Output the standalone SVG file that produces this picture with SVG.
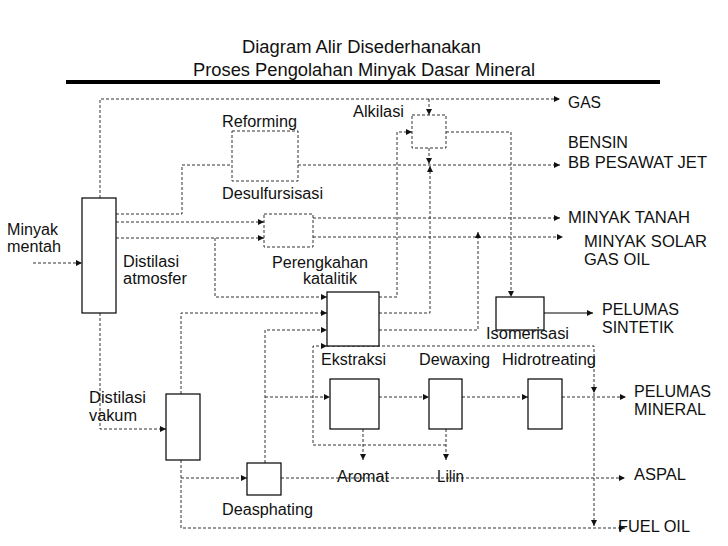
<svg xmlns="http://www.w3.org/2000/svg" width="728" height="546" viewBox="0 0 728 546">
<style>
text{font-family:"Liberation Sans",Arial,sans-serif;font-size:16px;fill:#111}
.t{font-size:18.3px}
.box{fill:#fff;stroke:#000;stroke-width:1.2}
.dbox{fill:#fff;stroke:#333;stroke-width:1;stroke-dasharray:3,2}
.c path{fill:none;stroke:#333;stroke-width:1;stroke-dasharray:3,2}
.c path.a{marker-end:url(#ah)}
.c path.s{stroke:#000;stroke-dasharray:none}
</style>
<defs>
<marker id="ah" markerUnits="userSpaceOnUse" markerWidth="7" markerHeight="7" refX="6" refY="3" orient="auto">
<path d="M0,0 L6,3 L0,6 z" fill="#111"/>
</marker>
</defs>
<rect width="728" height="546" fill="#fff"/>
<g id="title">
<text class="t" x="242" y="53" textLength="239" lengthAdjust="spacingAndGlyphs">Diagram Alir Disederhanakan</text>
<text class="t" x="193" y="76" textLength="342" lengthAdjust="spacingAndGlyphs">Proses Pengolahan Minyak Dasar Mineral</text>
<rect x="66" y="80" width="594" height="4" fill="#000"/>
</g>
<g class="c" id="connectors">
<path class="a" d="M33,263 H82"/>
<path class="a" d="M100,198 V99 H560"/>
<path class="a" d="M429,99 V115"/>
<path class="a" d="M446,132 H511 V297"/>
<path class="a s" d="M544,313 H593"/>
<path d="M116,214 H182 V165 H232"/>
<path class="a" d="M298,165 H560"/>
<path class="a" d="M429,148 V164"/>
<path class="a" d="M379,313 H430 V166"/>
<path class="a" d="M379,297 H397 V132 H412"/>
<path class="a" d="M116,222 H264"/>
<path class="a" d="M116,238 H264"/>
<path class="a" d="M313,218 H560"/>
<path class="a" d="M313,237 H563"/>
<path class="a" d="M215,238 V297 H327"/>
<path class="a" d="M181,394 V313 H327"/>
<path class="a" d="M265,463 V330 H327"/>
<path class="a" d="M379,330 H478 V232"/>
<path class="a" d="M446,429 V460"/>
<path class="a" d="M446,445 H313 V346 H327"/>
<path class="a" d="M327,346 H594 V393"/>
<path class="a" d="M594,393 V526"/>
<path class="a" d="M363,429 V460"/>
<path class="a" d="M100,313 V429 H166"/>
<path class="a" d="M181,460 V528 H625"/>
<path class="a" d="M181,478 H247"/>
<path class="a" d="M281,478 H625"/>
<path class="a" d="M265,397 H330"/>
<path class="a" d="M379,397 H429"/>
<path class="a" d="M462,397 H528"/>
<path class="a" d="M562,397 H626"/>
</g>
<g id="distilasi-atmosfer">
<rect class="box" x="82" y="198" width="34" height="115"/>
<text x="123" y="267" textLength="56" lengthAdjust="spacingAndGlyphs">Distilasi</text>
<text x="123" y="284" textLength="64" lengthAdjust="spacingAndGlyphs">atmosfer</text>
</g>
<g id="minyak-mentah">
<text x="7" y="235" textLength="51" lengthAdjust="spacingAndGlyphs">Minyak</text>
<text x="7" y="252" textLength="54" lengthAdjust="spacingAndGlyphs">mentah</text>
</g>
<g id="reforming">
<rect class="dbox" x="232" y="131" width="66" height="50"/>
<text x="222" y="127" textLength="75" lengthAdjust="spacingAndGlyphs">Reforming</text>
</g>
<g id="desulfurisasi">
<rect class="dbox" x="264" y="214" width="49" height="33"/>
<text x="222" y="199" textLength="101" lengthAdjust="spacingAndGlyphs">Desulfursisasi</text>
</g>
<g id="alkilasi">
<rect class="dbox" x="412" y="115" width="34" height="33"/>
<text x="353" y="117" textLength="51" lengthAdjust="spacingAndGlyphs">Alkilasi</text>
</g>
<g id="perengkahan-katalitik">
<rect class="box" x="327" y="292" width="52" height="54"/>
<text x="272" y="268" textLength="96" lengthAdjust="spacingAndGlyphs">Perengkahan</text>
<text x="303" y="284" textLength="54" lengthAdjust="spacingAndGlyphs">katalitik</text>
</g>
<g id="isomerisasi">
<rect class="box" x="496" y="297" width="48" height="33"/>
<text x="486" y="339" textLength="83" lengthAdjust="spacingAndGlyphs">Isomerisasi</text>
</g>
<g id="distilasi-vakum">
<rect class="box" x="166" y="394" width="34" height="66"/>
<text x="89" y="403" textLength="57" lengthAdjust="spacingAndGlyphs">Distilasi</text>
<text x="89" y="421" textLength="48" lengthAdjust="spacingAndGlyphs">vakum</text>
</g>
<g id="ekstraksi">
<rect class="box" x="330" y="379" width="49" height="50"/>
<text x="321" y="365" textLength="65" lengthAdjust="spacingAndGlyphs">Ekstraksi</text>
</g>
<g id="dewaxing">
<rect class="box" x="429" y="379" width="33" height="50"/>
<text x="419" y="365" textLength="71" lengthAdjust="spacingAndGlyphs">Dewaxing</text>
</g>
<g id="hidrotreating">
<rect class="box" x="528" y="379" width="34" height="50"/>
<text x="502" y="365" textLength="94" lengthAdjust="spacingAndGlyphs">Hidrotreating</text>
</g>
<g id="deasphating">
<rect class="box" x="247" y="463" width="34" height="32"/>
<text x="222" y="515" textLength="91" lengthAdjust="spacingAndGlyphs">Deasphating</text>
</g>
<g id="products">
<text x="568" y="108" textLength="33" lengthAdjust="spacingAndGlyphs">GAS</text>
<text x="568" y="148" textLength="60" lengthAdjust="spacingAndGlyphs">BENSIN</text>
<text x="568" y="168" textLength="139" lengthAdjust="spacingAndGlyphs">BB PESAWAT JET</text>
<text x="568" y="223" textLength="122" lengthAdjust="spacingAndGlyphs">MINYAK TANAH</text>
<text x="584" y="247" textLength="123" lengthAdjust="spacingAndGlyphs">MINYAK SOLAR</text>
<text x="584" y="265" textLength="66" lengthAdjust="spacingAndGlyphs">GAS OIL</text>
<text x="602" y="315" textLength="77" lengthAdjust="spacingAndGlyphs">PELUMAS</text>
<text x="602" y="333" textLength="72" lengthAdjust="spacingAndGlyphs">SINTETIK</text>
<text x="634" y="397" textLength="77" lengthAdjust="spacingAndGlyphs">PELUMAS</text>
<text x="634" y="415" textLength="72" lengthAdjust="spacingAndGlyphs">MINERAL</text>
<text x="337" y="482" textLength="52" lengthAdjust="spacingAndGlyphs">Aromat</text>
<text x="437" y="482" textLength="27" lengthAdjust="spacingAndGlyphs">Lilin</text>
<text x="634" y="480" textLength="52" lengthAdjust="spacingAndGlyphs">ASPAL</text>
<text x="618" y="532" textLength="72" lengthAdjust="spacingAndGlyphs">FUEL OIL</text>
</g>
</svg>
